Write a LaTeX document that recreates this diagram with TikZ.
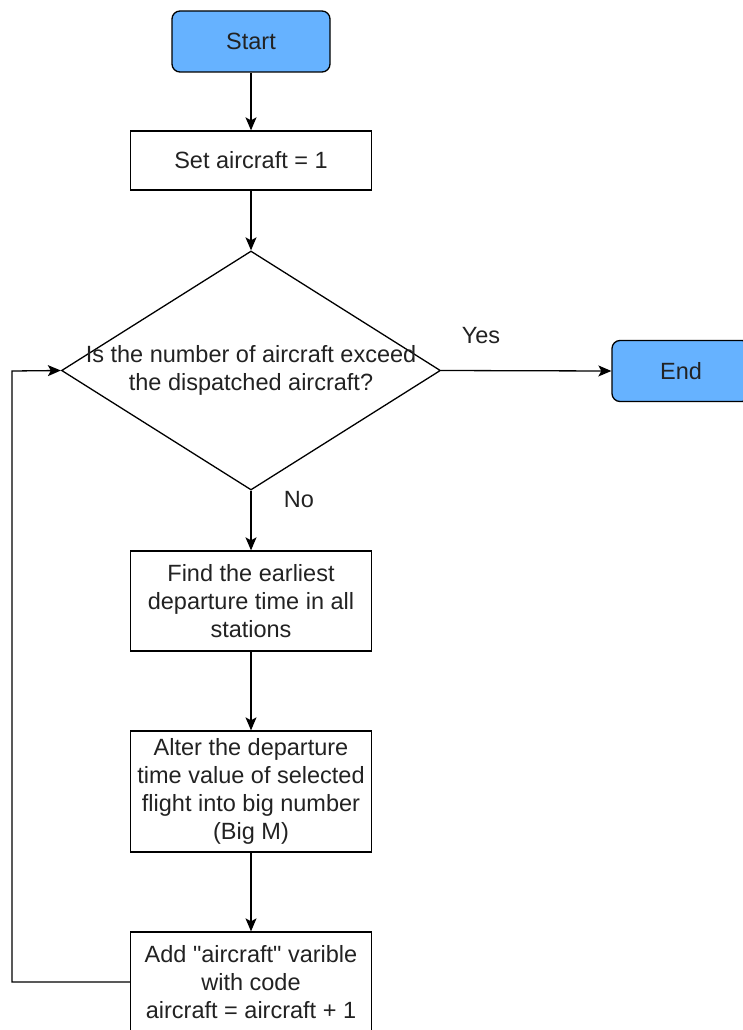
\documentclass[tikz,border=0pt]{standalone}
\usepackage{fontspec}
\setmainfont{Liberation Sans}
\usetikzlibrary{arrows.meta,shapes.geometric}
\definecolor{termblue}{HTML}{66B2FF}
\definecolor{ink}{HTML}{222222}
\begin{document}
\begin{tikzpicture}[x=1pt,y=-1pt,
  font=\fontsize{23.5}{28}\selectfont,
  every node/.style={text=ink},
  box/.style={draw=black, line width=1.3pt, minimum width=241pt, align=center, inner sep=0pt},
  term/.style={draw=black, line width=1.3pt, fill=termblue, rounded corners=8pt, minimum height=61pt, inner sep=0pt},
  decision/.style={draw=black, line width=1.3pt, diamond, minimum width=379pt, minimum height=239pt, inner sep=0pt},
  flow/.style={line width=1.3pt, -{Stealth[length=13pt,width=11pt,inset=3pt]}}]
\useasboundingbox (0,0) rectangle (742,1030);

% terminals
\node[term, minimum width=158pt] (start) at (251,41.5) {Start};
\node[term, minimum width=138pt] (stop) at (681,371) {End};

% process steps
\node[box, minimum height=59pt] (init) at (251,160.5) {Set aircraft = 1};
\node[decision, label={[align=center, text=ink]center:Is the number of aircraft exceed\\the dispatched aircraft?}] (dec) at (251,370.5) {};
\node[box, minimum height=100pt] (find) at (251,601) {Find the earliest\\departure time in all\\stations};
\node[box, minimum height=121pt] (alter) at (251,791.5) {Alter the departure\\time value of selected\\flight into big number\\(Big M)};
\node[box, minimum height=100pt] (incr) at (251,982) {Add \textquotedbl aircraft\textquotedbl{} varible\\with code\\aircraft = aircraft + 1};

% branch labels
\node (yes) at (481,336) {Yes};
\node (no) at (299,500) {No};

% connectors
\coordinate (loop) at (12,371);
\draw[flow] (start) -- (init);
\draw[flow] (init) -- (dec.north);
\draw[flow] (dec.east) -- (stop.west);
\draw[flow] (dec.south) -- (find);
\draw[flow] (find) -- (alter);
\draw[flow] (alter) -- (incr);
\draw[flow] (incr.west) -| (loop) -- (dec.west);
\end{tikzpicture}
\end{document}
